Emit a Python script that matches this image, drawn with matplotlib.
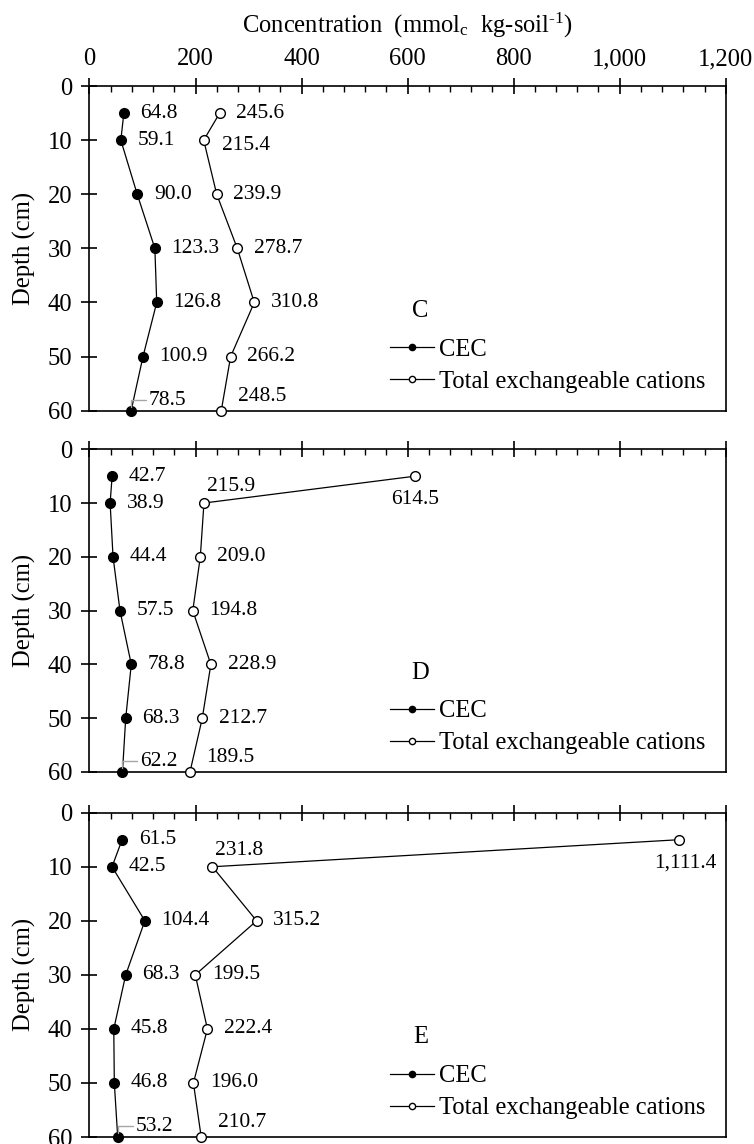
import matplotlib

matplotlib.use("Agg")
import matplotlib.pyplot as plt
from matplotlib.lines import Line2D
from matplotlib.ticker import FuncFormatter, MultipleLocator

plt.rcParams["font.family"] = "Liberation Serif"
plt.rcParams["mathtext.fontset"] = "custom"
plt.rcParams["mathtext.rm"] = "Liberation Serif"
plt.rcParams["mathtext.it"] = "Liberation Serif:italic"

# sampling depths (cm) and profiles per site
depths = [5, 10, 20, 30, 40, 50, 60]
sites = ["C", "D", "E"]

cec_c = [64.8, 59.1, 90.0, 123.3, 126.8, 100.9, 78.5]
tec_c = [245.6, 215.4, 239.9, 278.7, 310.8, 266.2, 248.5]
cec_d = [42.7, 38.9, 44.4, 57.5, 78.8, 68.3, 62.2]
tec_d = [614.5, 215.9, 209.0, 194.8, 228.9, 212.7, 189.5]
cec_e = [61.5, 42.5, 104.4, 68.3, 45.8, 46.8, 53.2]
tec_e = [1111.4, 231.8, 315.2, 199.5, 222.4, 196.0, 210.7]

cec_by_site = [cec_c, cec_d, cec_e]
tec_by_site = [tec_c, tec_d, tec_e]

x_ticks = [0, 200, 400, 600, 800, 1000, 1200]
y_ticks = [0, 10, 20, 30, 40, 50, 60]

FS = 17.7
LABEL_FS = 15.5

# label placement (offset in points, horizontal alignment); default is right of the marker
DEFAULT_OFFSET = ((12, 0), "left")
label_overrides = {
    (0, "tec", 1): ((13, -4), "left"),
    (1, "tec", 0): ((0, -17), "center"),
    (1, "tec", 1): ((2, 12), "left"),
    (2, "tec", 0): ((5, -17), "center"),
    (2, "tec", 1): ((2, 12), "left"),
}
# the deepest points get their label lifted above the bottom axis line
BOTTOM_CEC_OFFSET = (12.7, 7.7)
BOTTOM_TEC_OFFSET = (12, 10.5)

fig = plt.figure(figsize=(7.54, 11.44), dpi=100)
left, width = 0.1187, 0.8438
panel_boxes = [(0.6410, 0.2838), (0.3252, 0.2821), (0.0061, 0.2835)]


def label_points(ax, panel, kind, values):
    last = len(values) - 1
    for i, (v, d) in enumerate(zip(values, depths)):
        offset, ha = label_overrides.get((panel, kind, i), DEFAULT_OFFSET)
        arrow = None
        if i == last:
            offset = BOTTOM_CEC_OFFSET if kind == "cec" else BOTTOM_TEC_OFFSET
            if kind == "cec":
                arrow = dict(arrowstyle="-", color="0.65", lw=1.0,
                             shrinkA=0, shrinkB=3, relpos=(0, 0.5),
                             connectionstyle="angle,angleA=0,angleB=90,rad=0")
        ax.annotate(f"{v:,.1f}", xy=(v, d), xytext=offset,
                    textcoords="offset points", ha=ha, va="center",
                    fontsize=LABEL_FS, arrowprops=arrow, annotation_clip=False)


for panel, (site, cec, tec, (bottom, height)) in enumerate(
        zip(sites, cec_by_site, tec_by_site, panel_boxes)):
    ax = fig.add_axes([left, bottom, width, height])

    ax.plot(cec, depths, color="black", lw=0.9, marker="o", markersize=7,
            markerfacecolor="black", markeredgecolor="black", clip_on=False, zorder=3)
    ax.plot(tec, depths, color="black", lw=0.9, marker="o", markersize=7,
            markerfacecolor="white", markeredgecolor="black", markeredgewidth=1.0,
            clip_on=False, zorder=3)

    label_points(ax, panel, "cec", cec)
    label_points(ax, panel, "tec", tec)

    ax.set_xlim(0, 1200)
    ax.set_ylim(60, 0)
    ax.set_xticks(x_ticks)
    ax.xaxis.set_minor_locator(MultipleLocator(40))
    ax.xaxis.set_major_formatter(FuncFormatter(lambda v, _: f"{v:,.0f}"))
    ax.set_yticks(y_ticks)

    ax.tick_params(axis="x", which="major", direction="inout", length=11, width=1.2,
                   top=True, bottom=False, labeltop=(panel == 0), labelbottom=False,
                   labelsize=FS, pad=6)
    ax.tick_params(axis="x", which="minor", direction="in", length=4.5, width=1.0,
                   top=True, bottom=False)
    ax.tick_params(axis="y", which="major", direction="inout", length=11, width=1.2,
                   left=True, right=False, labelsize=FS, pad=7)
    for spine in ax.spines.values():
        spine.set_linewidth(1.2)

    ax.set_ylabel("Depth (cm)", fontsize=FS)
    ax.yaxis.set_label_coords(-0.084, 0.5)

    if panel == 0:
        ax.xaxis.set_label_position("top")
        ax.set_xlabel(r"Concentration  (mmol$_\mathregular{c}$  kg-soil$^{\text{-1}}$)",
                      fontsize=FS, labelpad=11)

    ax.text(0.52, 0.308, site, transform=ax.transAxes, ha="center", va="center",
            fontsize=FS)
    handles = [
        Line2D([], [], color="black", lw=0.9, marker="o", markersize=4.5,
               markerfacecolor="black"),
        Line2D([], [], color="black", lw=0.9, marker="o", markersize=4.5,
               markerfacecolor="white"),
    ]
    ax.legend(handles, ["CEC", "Total exchangeable cations"], loc="lower left",
              bbox_to_anchor=(0.472, 0.055), frameon=False, fontsize=FS,
              handlelength=1.8, handletextpad=0.2, labelspacing=0.4,
              borderpad=0, borderaxespad=0)

fig.savefig("out.png", dpi=100)
